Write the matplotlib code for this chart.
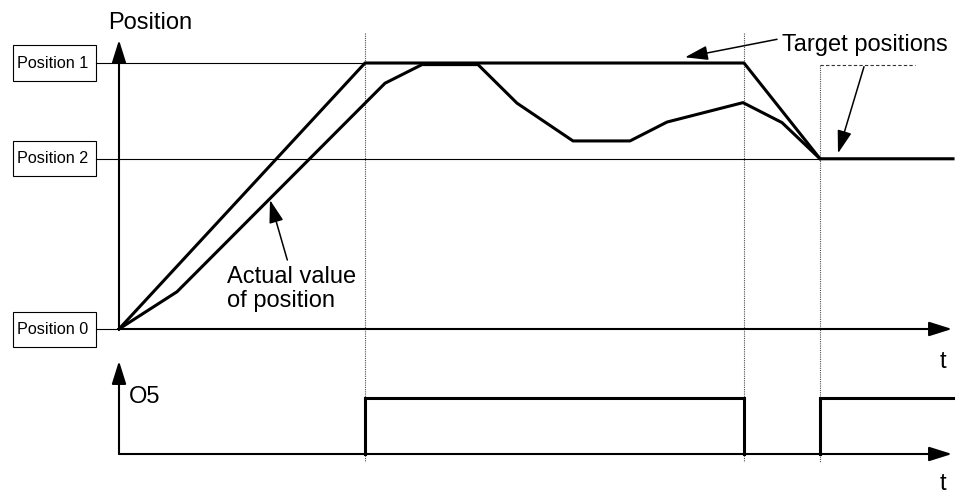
import matplotlib.pyplot as plt
from matplotlib.patches import Rectangle

plt.rcParams['font.family'] = ['Liberation Sans', 'DejaVu Sans']

# ---- data -------------------------------------------------------------
# position levels (arbitrary units, Position 1 = 100)
level_names = ['Position 0', 'Position 1', 'Position 2']
level_values = [0, 100, 64]

# target position profile
t_target = [0, 2.46, 6.25, 7.01, 8.34]
pos_target = [0, 100, 100, 64, 64]

# actual value of position
t_actual = [0, 0.58, 2.66, 3.03, 3.59, 3.98, 4.54, 5.11, 5.48, 6.24, 6.63, 7.01]
pos_actual = [0, 14.0, 92.4, 99.4, 99.4, 84.9, 70.7, 70.7, 77.8, 85.1, 77.6, 64]

# output O5 (0 = off, 1 = on), step changes at these times
t_o5 = [0, 2.46, 6.25, 7.01, 8.34]
o5 = [0, 1, 0, 1, 1]

# event times marked with dotted lines
t_events = [2.46, 6.25, 7.01]

# ---- layout -----------------------------------------------------------
W, H = 963, 496
X0, PX_T = 119, 100.0          # pixel of t=0, pixels per time unit
Y0_POS, PX_POS = 329, 2.66     # pixel of position 0, pixels per position unit
Y0_O5, PX_O5 = 454, 56.0       # pixel of O5 low level, pixels per O5 unit

fig = plt.figure(figsize=(W / 100, H / 100), dpi=100)
ax = fig.add_axes([0, 0, 1, 1])
ax2 = fig.add_axes([0, 0, 1, 1])
xlim = (-X0 / PX_T, (W - X0) / PX_T)
for a in (ax, ax2):
    a.set_xlim(*xlim)
    a.axis('off')
    a.patch.set_alpha(0)
ax.set_ylim((Y0_POS - H) / PX_POS, Y0_POS / PX_POS)
ax2.set_ylim((Y0_O5 - H) / PX_O5, Y0_O5 / PX_O5)

AX_ARROW = dict(arrowstyle='-|>,head_length=0.7,head_width=0.22',
                mutation_scale=20, lw=1.5, color='black',
                shrinkA=0, shrinkB=0)
PTR_ARROW = dict(arrowstyle='-|>,head_length=0.7,head_width=0.22',
                 mutation_scale=20, lw=1.1, color='black',
                 shrinkA=0, shrinkB=0)
BIG = 17

# ---- position diagram -------------------------------------------------
# axes with arrowheads
ax.annotate('', xy=(0, (Y0_POS - 40) / PX_POS), xytext=(0, 0), arrowprops=AX_ARROW)
ax.annotate('', xy=((952 - X0) / PX_T, 0), xytext=(0, 0), arrowprops=AX_ARROW)
ax.text(0.31, (Y0_POS - 23) / PX_POS, 'Position', fontsize=BIG, ha='center', va='center')
ax.text(8.24, -12.5, 't', fontsize=BIG, ha='center', va='center')

# level boxes and reference lines
box_left, box_w = -1.063, 0.833
box_h = 35 / PX_POS
line_end = {0: 0, 100: t_target[2], 64: t_target[-1]}
for name, val in zip(level_names, level_values):
    ax.add_patch(Rectangle((box_left, val - box_h / 2), box_w, box_h,
                           fill=False, lw=0.8, ec='black'))
    ax.text(box_left + 0.04, val, name, fontsize=11.6, ha='left', va='center')
    ax.plot([box_left + box_w, line_end[val]], [val, val], color='black', lw=0.8)

# event markers
ev_top = [(Y0_POS - 33) / PX_POS, (Y0_POS - 33) / PX_POS, (Y0_POS - 65) / PX_POS]
for t, top in zip(t_events, ev_top):
    ax.plot([t, t], [top, (Y0_POS - 462) / PX_POS], color='0.3', lw=0.8,
            ls=(0, (1, 1)))
ax.plot([t_events[2], 7.96], [ev_top[2]] * 2, color='0.2', lw=0.8, ls=(0, (3, 2)))

# profiles
ax.plot(t_target, pos_target, color='black', lw=2.2)
ax.plot(t_actual, pos_actual, color='black', lw=2.2)

# labels with pointers
ax.text(6.63, (Y0_POS - 45) / PX_POS, 'Target positions', fontsize=BIG,
        ha='left', va='center')
ax.annotate('', xy=(5.66, (Y0_POS - 57.3) / PX_POS),
            xytext=(6.58, (Y0_POS - 39.3) / PX_POS), arrowprops=PTR_ARROW)
ax.annotate('', xy=(7.19, (Y0_POS - 153.3) / PX_POS),
            xytext=(7.45, (Y0_POS - 66.7) / PX_POS), arrowprops=PTR_ARROW)

ax.text(1.08, (Y0_POS - 266) / PX_POS, 'Actual value\nof position', fontsize=BIG,
        ha='left', va='top', linespacing=1.1)
ax.annotate('', xy=(1.51, (Y0_POS - 200) / PX_POS),
            xytext=(1.683, (Y0_POS - 260) / PX_POS), arrowprops=PTR_ARROW)

# ---- output O5 --------------------------------------------------------
ax2.annotate('', xy=(0, (Y0_O5 - 361) / PX_O5), xytext=(0, 0), arrowprops=AX_ARROW)
ax2.annotate('', xy=((952 - X0) / PX_T, 0), xytext=(0, 0), arrowprops=AX_ARROW)
ax2.text(0.10, 1.02, 'O5', fontsize=BIG, ha='left', va='center')
ax2.text(8.24, -0.53, 't', fontsize=BIG, ha='center', va='center')

# high phases drawn bold; the low level sits on the time axis
for i in range(len(t_o5) - 1):
    if o5[i]:
        ax2.plot([t_o5[i], t_o5[i + 1]], [1, 1], color='black', lw=2.2,
                 solid_capstyle='projecting')
    if i > 0 and o5[i] != o5[i - 1]:
        ax2.plot([t_o5[i], t_o5[i]], [0, 1], color='black', lw=2.2,
                 solid_capstyle='projecting')

fig.savefig('out.png', dpi=100, facecolor='white')
